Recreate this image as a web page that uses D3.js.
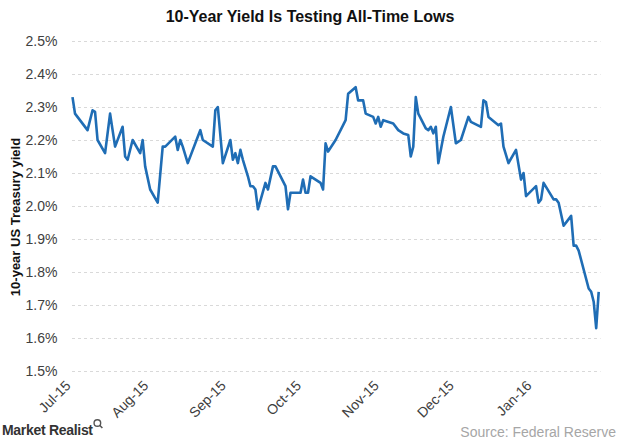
<!DOCTYPE html>
<html><head><meta charset="utf-8">
<script src="https://cdn.jsdelivr.net/npm/d3@7"></script>
<style>
html,body{margin:0;padding:0;background:#fff;}
svg{display:block;font-family:"Liberation Sans",Arial,sans-serif;}
</style></head><body>
<svg id="c" width="620" height="443"></svg>
<script>
const dates = ["2015-07-01","2015-07-02","2015-07-07","2015-07-09","2015-07-10","2015-07-11","2015-07-14","2015-07-16","2015-07-18","2015-07-21",
"2015-07-22","2015-07-23","2015-07-25","2015-07-28","2015-07-29","2015-07-30","2015-08-01","2015-08-04","2015-08-06","2015-08-07",
"2015-08-11","2015-08-12","2015-08-13","2015-08-14","2015-08-16","2015-08-20","2015-08-21","2015-08-22","2015-08-26","2015-08-27",
"2015-08-28","2015-08-30","2015-09-02","2015-09-03","2015-09-04","2015-09-05","2015-09-06","2015-09-07","2015-09-09","2015-09-10",
"2015-09-11","2015-09-12","2015-09-13","2015-09-16","2015-09-17","2015-09-19","2015-09-20","2015-09-24","2015-09-25","2015-09-26",
"2015-09-30","2015-10-01","2015-10-02","2015-10-03","2015-10-04","2015-10-08","2015-10-09","2015-10-10","2015-10-11","2015-10-14",
"2015-10-17","2015-10-18","2015-10-19","2015-10-22","2015-10-23","2015-10-25","2015-10-26","2015-10-29","2015-10-30","2015-10-31",
"2015-11-01","2015-11-02","2015-11-06","2015-11-08","2015-11-10","2015-11-12","2015-11-13","2015-11-14","2015-11-15","2015-11-16",
"2015-11-19","2015-11-20","2015-11-21","2015-11-22","2015-11-23","2015-11-24","2015-11-26","2015-11-29","2015-12-01","2015-12-03",
"2015-12-06","2015-12-07","2015-12-11","2015-12-12","2015-12-13","2015-12-14","2015-12-18","2015-12-19","2015-12-20","2015-12-22",
"2015-12-25","2015-12-27","2015-12-28","2015-12-29","2016-01-02","2016-01-03","2016-01-04","2016-01-05","2016-01-09","2016-01-10",
"2016-01-11","2016-01-13","2016-01-16","2016-01-17","2016-01-18","2016-01-19","2016-01-23","2016-01-24","2016-01-25","2016-01-26",
"2016-01-27"];
const yields = [2.33,2.28,2.23,2.29,2.285,2.20,2.16,2.28,2.18,2.24,
2.15,2.14,2.20,2.16,2.20,2.12,2.05,2.01,2.18,2.18,
2.21,2.17,2.20,2.18,2.13,2.21,2.23,2.20,2.18,2.29,
2.30,2.13,2.20,2.14,2.16,2.13,2.17,2.14,2.09,2.06,
2.06,2.05,1.99,2.07,2.05,2.12,2.12,2.06,1.99,2.04,
2.04,2.08,2.04,2.04,2.09,2.07,2.05,2.19,2.165,2.20,
2.245,2.26,2.34,2.36,2.32,2.32,2.28,2.27,2.25,2.27,
2.24,2.26,2.25,2.23,2.22,2.215,2.15,2.18,2.33,2.28,
2.235,2.23,2.24,2.22,2.24,2.13,2.21,2.30,2.19,2.20,
2.27,2.255,2.24,2.32,2.315,2.27,2.245,2.25,2.18,2.13,
2.17,2.08,2.10,2.03,2.06,2.01,2.02,2.07,2.02,2.02,
2.01,1.94,1.97,1.88,1.88,1.865,1.75,1.74,1.71,1.63,
1.74];
const yTicks = [1.5,1.6,1.7,1.8,1.9,2.0,2.1,2.2,2.3,2.4,2.5];
const monthTicks = ["2015-07-01","2015-08-01","2015-09-01","2015-10-01","2015-11-01","2015-12-01","2016-01-01"];
const monthLabels = ["Jul-15","Aug-15","Sep-15","Oct-15","Nov-15","Dec-15","Jan-16"];

const parse = d3.utcParse("%Y-%m-%d");
const data = dates.map((d,i)=>({date:parse(d), v:yields[i]}));
const svg = d3.select("#c");
const L=72.5, R=598.7, T=41, B=371, gridR=601;

const x = d3.scaleUtc().domain([parse("2015-07-01"), parse("2016-01-27")]).range([L,R]);
const y = d3.scaleLinear().domain([1.5,2.5]).range([B,T]);

// title
svg.append("text").attr("x",310).attr("y",22).attr("text-anchor","middle")
  .attr("font-weight","bold").attr("font-size",16).attr("fill","#111")
  .text("10-Year Yield Is Testing All-Time Lows");

// gridlines
const grid = svg.append("g").attr("transform",`translate(${L-0.5},0)`)
  .call(d3.axisLeft(y).tickValues(yTicks).tickSize(-(gridR-L)).tickFormat(""));
grid.select(".domain").remove();
grid.selectAll("line").attr("stroke","#d9d9d9").attr("stroke-dasharray","3,3");

// y labels
const ya = svg.append("g").attr("transform",`translate(${L-12},0)`)
  .call(d3.axisLeft(y).tickValues(yTicks).tickSize(0).tickFormat(d=>d3.format(".1f")(d)+"%"));
ya.select(".domain").remove();
ya.selectAll("text").attr("font-size",14).attr("fill","#404040")
  .attr("font-family","Liberation Sans, Arial, sans-serif");

// y title
svg.append("text").attr("transform","translate(20,217) rotate(-90)")
  .attr("text-anchor","middle").attr("font-weight","bold").attr("font-size",13).attr("fill","#111")
  .text("10-year US Treasury yield");

// x labels
const xa = svg.append("g").attr("transform",`translate(0,${B})`)
  .call(d3.axisBottom(x).tickValues(monthTicks.map(parse)).tickSize(0)
    .tickFormat((d,i)=>monthLabels[i]));
xa.select(".domain").remove();
xa.selectAll("text").attr("font-size",14).attr("fill","#404040")
  .attr("font-family","Liberation Sans, Arial, sans-serif")
  .attr("text-anchor","end").attr("dy","0.35em").attr("y",0)
  .attr("transform","translate(-5,12) rotate(-45)");

// line
svg.append("path").datum(data)
  .attr("fill","none").attr("stroke","#1f6db5").attr("stroke-width",2.6)
  .attr("stroke-linejoin","round")
  .attr("d", d3.line().x(d=>x(d.date)).y(d=>y(d.v)));

// footer
const mr = svg.append("text").attr("x",2).attr("y",435).attr("font-weight","bold")
  .attr("font-size",14).attr("fill","#333").attr("letter-spacing","-0.3")
  .text("Market Realist");
const bb = mr.node().getBBox();
const ix = bb.x + bb.width + 4, iy = 423;
svg.append("circle").attr("cx",ix).attr("cy",iy).attr("r",3.3).attr("fill","none").attr("stroke","#555").attr("stroke-width",1.4);
svg.append("line").attr("x1",ix+2.3).attr("y1",iy+2.3).attr("x2",ix+5).attr("y2",iy+5).attr("stroke","#555").attr("stroke-width",1.6);
svg.append("text").attr("x",616).attr("y",437).attr("text-anchor","end")
  .attr("font-size",14).attr("fill","#a6a6a6").text("Source: Federal Reserve");
</script>
</body></html>
